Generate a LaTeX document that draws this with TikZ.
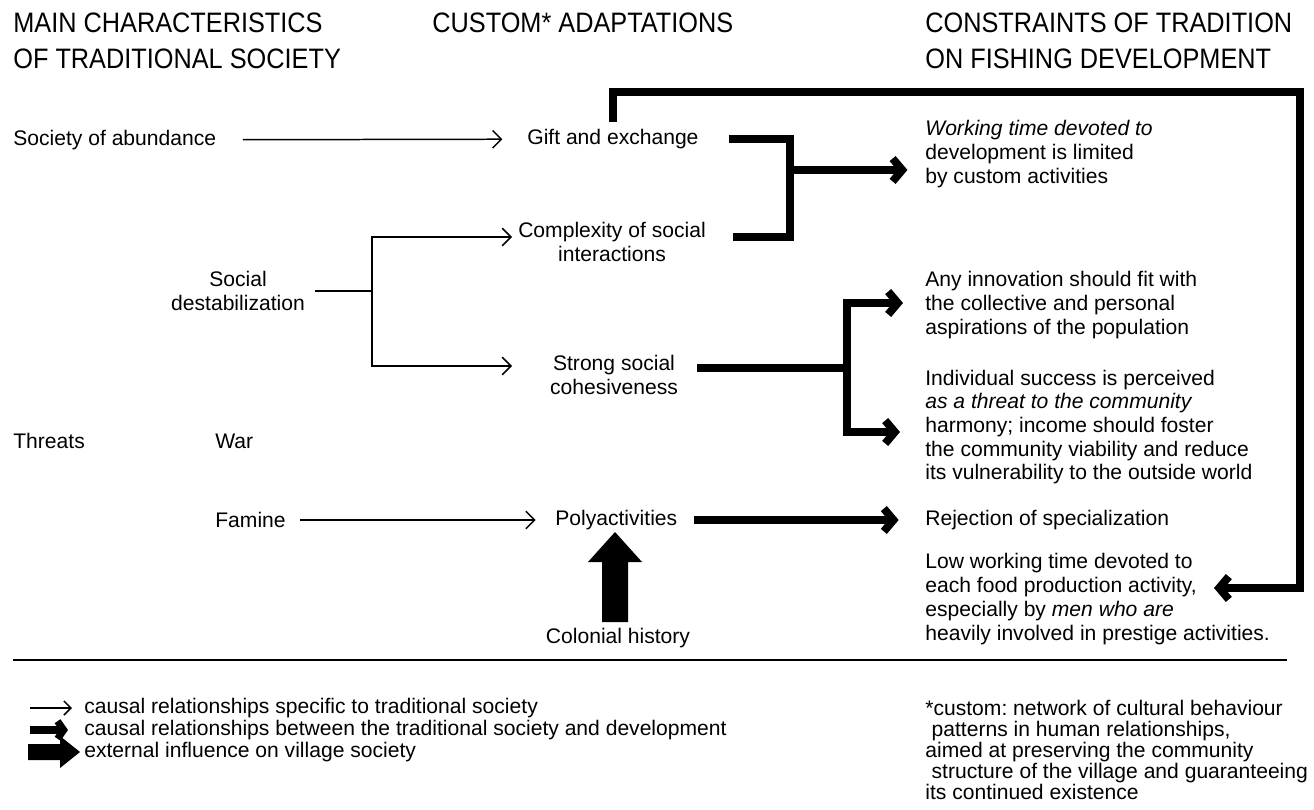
\documentclass[tikz,border=0pt]{standalone}
\usepackage{fontspec}
\setmainfont{Liberation Sans}
\newfontfamily\headfont[FakeStretch=0.9]{Liberation Sans}
\usetikzlibrary{arrows.meta}
\begin{document}
\begin{tikzpicture}[x=0.02cm,y=-0.02cm,
  txt/.style={inner sep=0pt,align=left,anchor=west,font=\fontsize{12}{13.5}\selectfont\frenchspacing},
  ctr/.style={txt,align=center,anchor=center},
  head/.style={inner sep=0pt,align=left,anchor=west,font=\headfont\fontsize{16}{20.5}\selectfont},
  note/.style={txt,font=\fontsize{12}{12}\selectfont\frenchspacing},
  causal/.style={line width=0.85pt,-{Straight Barb[length=5pt,width=10pt]}},
  bar/.style={line width=4.5pt},
  devel/.style={bar,-{Straight Barb[length=5.5pt,width=13pt]}}]
\useasboundingbox (0,0) rectangle (1314,810);
% column headings
\node[head] (hmain) at (13,41) {MAIN CHARACTERISTICS\\OF TRADITIONAL SOCIETY};
\node[head] (hcust) at (432,23) {CUSTOM* ADAPTATIONS};
\node[head] (hcons) at (925,41) {CONSTRAINTS OF TRADITION\\ON FISHING DEVELOPMENT};
% traditional society
\node[txt] (abund) at (13,140) {Society of abundance};
\node[ctr] (destab) at (238,291) {Social\\destabilization};
\node[txt] (threats) at (13,441) {Threats};
\node[txt] (war) at (215,441) {War};
\node[txt] (famine) at (215,520) {Famine};
% custom adaptations
\node[txt] (gift) at (527,139) {Gift and exchange};
\node[ctr] (complex) at (612,242) {Complexity of social\\interactions};
\node[ctr] (strong) at (614,375) {Strong social\\cohesiveness};
\node[txt] (poly) at (555,520) {Polyactivities};
\node[ctr] (colonial) at (618,638) {Colonial history};
% constraints
\node[txt] (work) at (925,154) {\textit{Working time devoted to}\\development is limited\\by custom activities};
\node[txt] (innov) at (925,305) {Any innovation should fit with\\the collective and personal\\aspirations of the population};
\node[txt] (succ) at (925,427) {Individual success is perceived\\\textit{as a threat to the community}\\harmony; income should foster\\the community viability and reduce\\its vulnerability to the outside world};
\node[txt] (reject) at (925,520) {Rejection of specialization};
\node[txt] (low) at (925,599) {Low working time devoted to\\each food production activity,\\especially by \textit{men who are}\\heavily involved in prestige activities.};
% thin arrows
\draw[causal,shorten <=15pt,shorten >=14pt] (abund) -- (gift);
\draw[causal,shorten <=8pt,shorten >=11pt] (famine) -- (poly);
\coordinate (sj) at (372,291);
\coordinate (cin) at (512,237);
\coordinate (sin) at (512,366);
\draw[line width=0.85pt,shorten <=5.5pt] (destab.east) -- (sj);
\draw[causal] (sj) |- (cin);
\draw[causal] (sj) |- (sin);
% thick arrows
\coordinate (b1s) at (733,237);
\coordinate (b1m) at (790,170);
\draw[bar] ([xshift=17pt]gift.east) -| (790,237) -- (b1s);
\draw[devel,shorten >=10pt] (b1m) -- (work.west |- b1m);
\coordinate (b2s) at (697,368);
\coordinate (b2m) at (847,368);
\coordinate (innovin) at (903,303);
\coordinate (succin) at (900,432);
\draw[bar] (b2s) -- (b2m);
\draw[devel] (b2m) |- (innovin);
\draw[devel] (b2m) |- (succin);
\draw[devel,shorten <=9.5pt,shorten >=15pt] (poly) -- (reject);
\coordinate (loopend) at (1214,588);
\draw[devel] ([yshift=4pt]gift.north) |- (1300,92) |- (loopend);
% colonial history
\coordinate (cbase) at (602,622);
\fill (cbase) -- ++(0,-60) -- ++(-14,0) -- ++(27,-30) -- ++(27,30) -- ++(-14,0) -- ++(0,60) -- cycle;
% separator
\draw[line width=1pt] (13,660) -- (1287,660);
% key
\node[note] (key1) at (84,708) {causal relationships specific to traditional society};
\node[note] (key2) at (84,730) {causal relationships between the traditional society and development};
\node[note] (key3) at (84,752) {external influence on village society};
\coordinate (k1) at (30,708);
\coordinate (k2) at (30,730);
\coordinate (k3) at (28,752);
\draw[line width=0.85pt,-{Straight Barb[length=4pt,width=8pt]}] (k1) -- (72,708);
\draw[line width=4pt,-{Straight Barb[length=3.5pt,width=10pt]}] (k2) -- (68,730);
\fill (k3) -- ++(0,-8) -- ++(32,0) -- ++(0,-8) -- ++(20,16) -- ++(-20,16) -- ++(0,-8) -- ++(-32,0) -- cycle;
\node[note] (foot) at (925,750) {*custom: network of cultural behaviour\\\hspace*{0.3em}patterns in human relationships,\\aimed at preserving the community\\\hspace*{0.3em}structure of the village and guaranteeing\\its continued existence};
\end{tikzpicture}
\end{document}
